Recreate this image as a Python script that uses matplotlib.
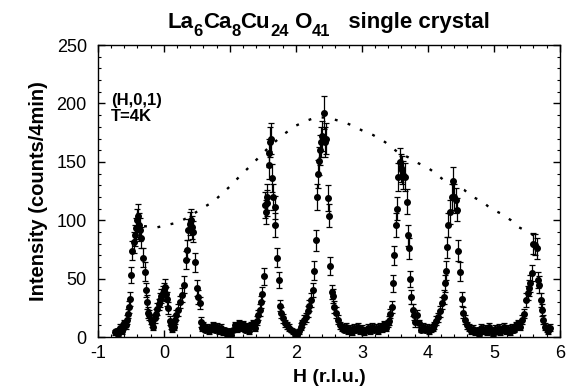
import matplotlib
matplotlib.use('Agg')
import matplotlib.pyplot as plt
from matplotlib.ticker import MultipleLocator

plt.rcParams['font.family'] = ['Liberation Sans', 'DejaVu Sans']
plt.rcParams['axes.unicode_minus'] = False

# scan data: H (r.l.u.), counts per 4 min, error
h = [-0.74, -0.72, -0.70, -0.68, -0.66, -0.64, -0.62, -0.60, -0.58, -0.56,
     -0.54, -0.53, -0.51, -0.50, -0.48, -0.46, -0.44, -0.42, -0.41, -0.39,
     -0.38, -0.36, -0.34, -0.31, -0.29, -0.27, -0.26, -0.24, -0.22, -0.20,
     -0.18, -0.16, -0.14, -0.12, -0.10, -0.08, -0.06, -0.04, -0.02, 0.00,
     0.02, 0.03, 0.05, 0.07, 0.09, 0.11, 0.13, 0.15, 0.17, 0.19,
     0.21, 0.24, 0.27, 0.30, 0.33, 0.35, 0.37, 0.39, 0.41, 0.42,
     0.44, 0.47, 0.50, 0.52, 0.54, 0.56, 0.58, 0.60, 0.63, 0.66,
     0.69, 0.72, 0.75, 0.78, 0.81, 0.84, 0.87, 0.90, 0.93, 0.96,
     0.99, 1.02, 1.05, 1.08, 1.11, 1.14, 1.17, 1.20, 1.23, 1.26,
     1.29, 1.32, 1.35, 1.38, 1.41, 1.43, 1.45, 1.47, 1.49, 1.51,
     1.53, 1.54, 1.56, 1.57, 1.59, 1.60, 1.61, 1.62, 1.64, 1.66,
     1.68, 1.69, 1.72, 1.74, 1.76, 1.78, 1.81, 1.84, 1.87, 1.90,
     1.93, 1.96, 1.99, 2.02, 2.05, 2.08, 2.10, 2.12, 2.15, 2.18,
     2.20, 2.23, 2.26, 2.28, 2.30, 2.32, 2.33, 2.35, 2.37, 2.38,
     2.40, 2.42, 2.44, 2.46, 2.48, 2.50, 2.52, 2.55, 2.56, 2.58,
     2.61, 2.64, 2.67, 2.70, 2.73, 2.76, 2.79, 2.82, 2.85, 2.88,
     2.91, 2.94, 2.97, 3.00, 3.03, 3.06, 3.09, 3.12, 3.15, 3.18,
     3.21, 3.24, 3.27, 3.30, 3.33, 3.36, 3.39, 3.41, 3.43, 3.45,
     3.47, 3.49, 3.51, 3.53, 3.55, 3.57, 3.59, 3.61, 3.63, 3.66,
     3.68, 3.70, 3.71, 3.73, 3.75, 3.77, 3.79, 3.81, 3.84, 3.86,
     3.89, 3.92, 3.95, 3.98, 4.01, 4.04, 4.07, 4.10, 4.13, 4.16,
     4.19, 4.22, 4.24, 4.26, 4.27, 4.29, 4.31, 4.34, 4.36, 4.38,
     4.40, 4.42, 4.44, 4.46, 4.49, 4.51, 4.53, 4.56, 4.59, 4.62,
     4.65, 4.68, 4.71, 4.74, 4.77, 4.80, 4.83, 4.86, 4.89, 4.92,
     4.95, 4.98, 5.01, 5.04, 5.07, 5.10, 5.13, 5.16, 5.19, 5.22,
     5.25, 5.28, 5.31, 5.34, 5.37, 5.40, 5.43, 5.46, 5.49, 5.51,
     5.53, 5.55, 5.57, 5.60, 5.63, 5.65, 5.67, 5.69, 5.71, 5.73,
     5.75, 5.78, 5.80, 5.82, 5.85]
counts = [4, 5, 3, 6, 8, 5, 9, 12, 10, 15,
          20, 26, 33, 53, 74, 81, 87, 93, 100, 104,
          96, 92, 85, 68, 56, 40, 30, 21, 19, 15,
          12, 9, 16, 20, 24, 28, 32, 35, 38, 40,
          43, 37, 33, 25, 14, 10, 7, 9, 15, 19,
          23, 30, 36, 45, 66, 75, 92, 97, 100, 94,
          90, 64, 42, 34, 29, 13, 8, 10, 6, 8,
          5, 7, 10, 6, 9, 5, 8, 4, 6, 3,
          5, 2, 6, 10, 7, 12, 8, 11, 6, 9,
          5, 10, 12, 8, 14, 19, 23, 30, 37, 52,
          113, 107, 120, 115, 147, 158, 167, 170, 136, 120,
          111, 96, 68, 49, 27, 21, 16, 12, 10, 8,
          6, 5, 3, 2, 5, 9, 12, 15, 17, 22,
          27, 32, 40, 57, 83, 120, 140, 151, 160, 167,
          172, 192, 167, 170, 119, 104, 61, 39, 35, 26,
          21, 15, 10, 8, 6, 9, 5, 7, 4, 8,
          6, 9, 5, 7, 4, 6, 8, 5, 9, 6,
          8, 5, 9, 7, 11, 8, 12, 14, 20, 26,
          46, 70, 96, 110, 137, 150, 145, 143, 139, 137,
          116, 87, 76, 50, 34, 23, 19, 13, 19, 12,
          6, 9, 6, 8, 5, 7, 8, 10, 14, 17,
          22, 29, 34, 46, 57, 77, 96, 107, 120, 134,
          120, 117, 109, 74, 56, 33, 21, 15, 10, 8,
          5, 7, 4, 6, 3, 8, 5, 7, 4, 9,
          6, 3, 7, 5, 8, 4, 6, 9, 5, 7,
          4, 8, 6, 10, 12, 9, 15, 20, 32, 38,
          42, 46, 55, 80, 79, 76, 49, 45, 32, 23,
          15, 9, 7, 5, 8]
errors = [2, 2, 2, 2, 3, 2, 3, 3, 3, 4,
          4, 5, 6, 7, 8, 9, 9, 9, 10, 10,
          10, 10, 9, 8, 8, 6, 6, 5, 4, 4,
          3, 3, 4, 4, 5, 5, 6, 6, 6, 6,
          7, 6, 6, 5, 4, 3, 3, 3, 4, 4,
          5, 5, 6, 7, 8, 8, 9, 10, 10, 10,
          9, 8, 7, 6, 5, 4, 3, 3, 2, 3,
          2, 3, 3, 2, 3, 2, 3, 2, 2, 2,
          2, 2, 2, 3, 3, 3, 3, 3, 2, 3,
          2, 3, 3, 3, 4, 4, 5, 5, 6, 7,
          11, 10, 11, 11, 12, 12, 13, 13, 12, 11,
          10, 10, 8, 7, 5, 5, 4, 3, 3, 3,
          2, 2, 2, 2, 2, 3, 3, 4, 4, 5,
          5, 6, 6, 8, 9, 11, 12, 12, 13, 13,
          13, 14, 13, 13, 11, 10, 8, 6, 6, 5,
          5, 4, 3, 3, 2, 3, 2, 3, 2, 3,
          2, 3, 2, 3, 2, 2, 3, 2, 3, 2,
          3, 2, 3, 3, 3, 3, 3, 4, 4, 5,
          7, 8, 10, 10, 12, 12, 12, 12, 12, 12,
          11, 9, 9, 7, 6, 5, 4, 4, 4, 3,
          2, 3, 2, 3, 2, 3, 3, 3, 4, 4,
          5, 5, 6, 7, 8, 9, 10, 10, 11, 12,
          11, 11, 10, 9, 8, 6, 5, 4, 3, 3,
          2, 3, 2, 2, 2, 3, 2, 3, 2, 3,
          2, 2, 3, 2, 3, 2, 2, 3, 2, 3,
          2, 3, 2, 3, 3, 3, 4, 4, 6, 6,
          7, 7, 7, 9, 9, 9, 7, 7, 6, 5,
          4, 3, 3, 2, 3]

# dotted envelope
env_h = [-0.30, -0.10, 0.05, 0.20, 0.35, 0.60, 0.75, 1.02, 1.17, 1.32,
         1.44, 1.60, 1.80, 2.00, 2.15, 2.30, 2.45, 2.60, 2.73, 2.86,
         3.00, 3.17, 3.35, 3.55, 3.70, 3.85, 4.00, 4.12, 4.27, 4.40,
         4.55, 4.68, 4.83, 4.95, 5.10, 5.26, 5.38, 5.52, 5.63]
env_i = [95, 94, 96, 98, 102, 111, 116, 130, 139, 147,
         154, 163, 173, 181, 185, 188, 188, 186, 184, 181,
         177, 173, 167, 158, 154, 149, 145, 140, 133, 130,
         126, 120, 116, 110, 106, 100, 94, 90, 86]

# title pieces: (text, is_subscript)
title_parts = [('La', False), ('6', True), ('Ca', False), ('8', True),
               ('Cu', False), ('24', True), (' O', False), ('41', True),
               ('   single crystal', False)]

fig = plt.figure(figsize=(5.69, 3.92), dpi=100)
ax = fig.add_axes([0.172, 0.140, 0.812, 0.745])

ax.plot(env_h, env_i, color='black', linestyle=(0, (1.2, 4.5)), linewidth=1.7)
ax.errorbar(h, counts, yerr=errors, fmt='o', color='black', markersize=4,
            elinewidth=0.9, capsize=2, capthick=0.9)

ax.set_xlim(-1, 6)
ax.set_ylim(0, 250)
ax.xaxis.set_major_locator(MultipleLocator(1))
ax.xaxis.set_minor_locator(MultipleLocator(0.2))
ax.yaxis.set_major_locator(MultipleLocator(50))
ax.yaxis.set_minor_locator(MultipleLocator(10))
ax.tick_params(which='both', direction='in', top=True, right=True, labelsize=13)
ax.tick_params(which='major', length=5, width=1)
ax.tick_params(which='minor', length=2.5, width=0.8)
ax.tick_params(axis='x', which='major', pad=6)
ax.tick_params(axis='y', which='major', pad=8)
for s in ax.spines.values():
    s.set_linewidth(1)

ax.set_xlabel('H (r.l.u.)', fontsize=14, fontweight='bold', labelpad=5)
ax.set_ylabel('Intensity (counts/4min)', fontsize=14.5, fontweight='bold', labelpad=6)
ax.text(-0.80, 209, '(H,0,1)\nT=4K', fontsize=12, fontweight='bold',
        va='top', ha='left', linespacing=1.05)

# title built piece by piece so the subscripts sit low like the original
renderer = fig.canvas.get_renderer()
pieces = []
total = 0.0
for txt, sub in title_parts:
    t = fig.text(0, 0, txt, fontsize=12 if sub else 16, fontweight='bold')
    w = t.get_window_extent(renderer).width
    pieces.append((t, sub, w))
    total += w
x0 = (98 + 560) / 2 - total / 2
base_y = 392 - 28
xp = x0
for t, sub, w in pieces:
    t.set_position((xp / 569, (base_y - (8 if sub else 0)) / 392))
    xp += w

fig.savefig('out.png', dpi=100)
